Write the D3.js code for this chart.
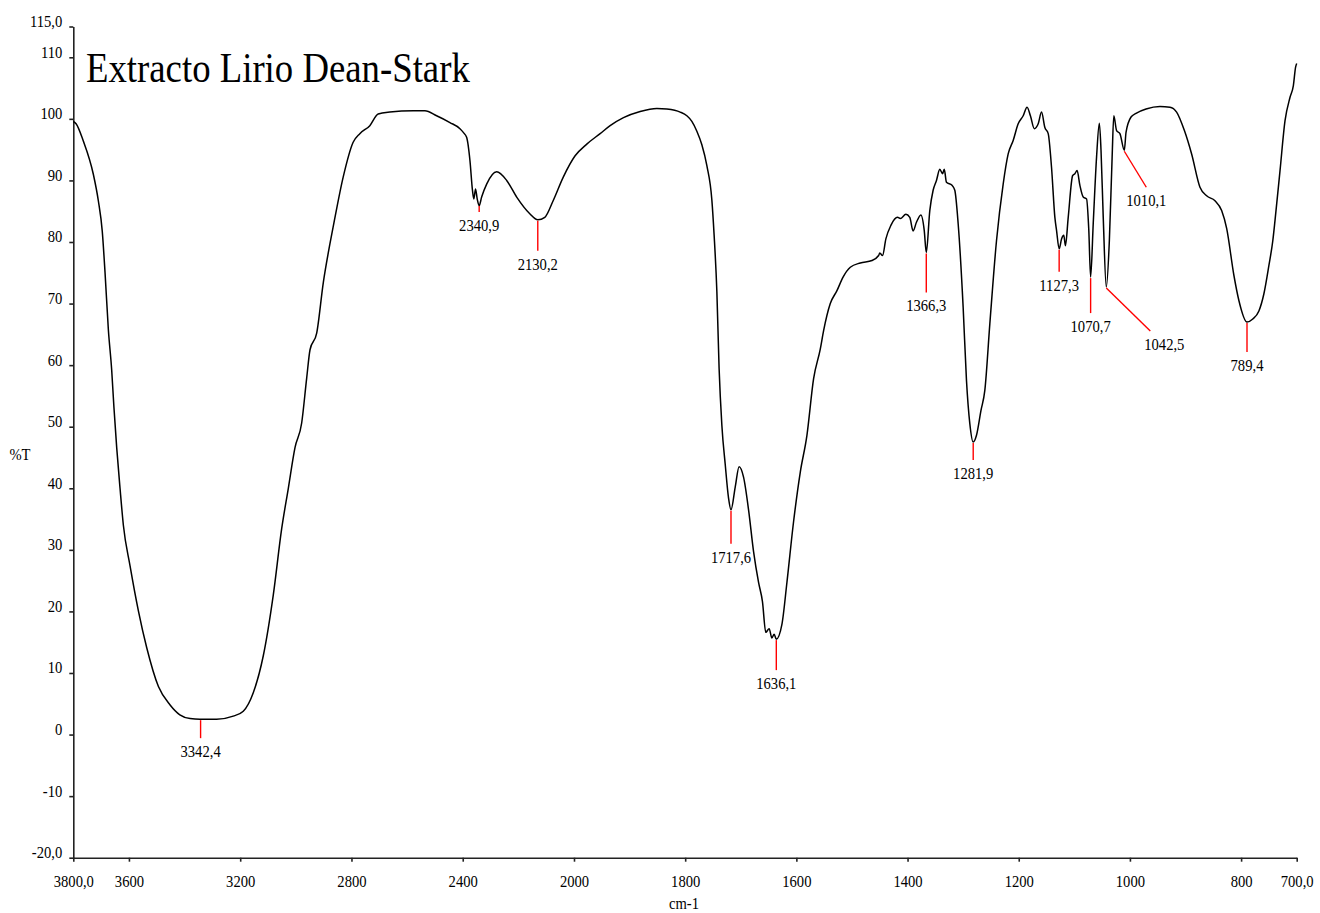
<!DOCTYPE html>
<html>
<head>
<meta charset="utf-8">
<script src="https://cdnjs.cloudflare.com/ajax/libs/d3/7.8.5/d3.min.js"></script>
<style>
  body { margin: 0; background: #fff; }
  text { font-family: "Liberation Serif", "Times New Roman", serif; fill: #000; }
</style>
</head>
<body>
<svg id="chart" width="1320" height="913"></svg>
<script>
// spectrum (cm-1 / %T)
var wavenumbers = [
  3800, 3790, 3764, 3728, 3710, 3696, 3686, 3674, 3662, 3654, 3644, 3632, 3620, 3596, 3566,
  3536, 3494, 3452, 3417, 3380, 3345, 3285, 3225, 3189, 3153, 3117, 3081, 3051, 3027, 3003,
  2979, 2961, 2949, 2925, 2901, 2877, 2866, 2830, 2794, 2770, 2734, 2704, 2662, 2578, 2536,
  2494, 2446, 2410, 2398, 2386, 2374, 2365, 2360, 2354, 2348, 2341, 2332, 2314, 2278, 2242,
  2206, 2159, 2130, 2105, 2075, 2039, 1998, 1977, 1953, 1935, 1911, 1881, 1851, 1833, 1809,
  1797, 1788, 1779, 1770, 1761, 1752, 1748, 1743, 1739, 1734, 1728, 1722, 1717.6, 1710, 1703,
  1695, 1686, 1677, 1668, 1661, 1655, 1649, 1644, 1640, 1636.1, 1626, 1617, 1605, 1593, 1581,
  1569, 1557, 1551, 1539, 1527, 1516, 1503, 1485, 1464, 1452, 1450, 1445, 1439, 1430, 1418,
  1413, 1403, 1396, 1390, 1384, 1376, 1370, 1366.3, 1360, 1354, 1348, 1342, 1337, 1334, 1330,
  1320, 1315, 1309, 1300, 1294, 1288, 1281.9, 1276, 1268, 1261, 1252, 1240, 1228, 1219, 1210,
  1201, 1192, 1185, 1179, 1172, 1165, 1159, 1153, 1147, 1141, 1135, 1132, 1127.3, 1123, 1119,
  1116, 1111, 1103, 1099, 1095, 1090, 1084, 1078, 1074, 1070.7, 1066, 1060, 1055, 1052, 1048,
  1042.5, 1037, 1032, 1029, 1024, 1018, 1010.1, 1007, 998, 989, 971, 946, 928, 916, 902,
  889, 874, 862, 847, 835, 826, 813, 804, 789.4, 779, 768, 759, 750, 743, 739,
  730, 721, 712, 706, 702, 700
];
var transmittance = [
  99.6, 99.2, 96.4, 91.0, 86.7, 81.8, 75.1, 65.8, 59.2, 53.2, 46.6, 40.0, 34.0, 27.4, 20.1,
  14.1, 7.8, 4.8, 3.2, 2.6, 2.5, 2.5, 3.0, 3.8, 6.8, 12.8, 22.7, 33.4, 40.0, 46.6,
  50.6, 57.9, 62.5, 65.2, 73.5, 79.8, 82.4, 90.5, 96.2, 97.6, 98.9, 100.8, 101.1, 101.3, 101.3,
  100.5, 99.4, 98.4, 97.8, 97.0, 93.2, 88.4, 87.0, 88.6, 87.0, 85.9, 87.3, 89.4, 91.4, 90.0,
  87.3, 84.6, 83.6, 84.0, 86.7, 90.5, 94.0, 95.9, 97.6, 98.9, 100.2, 101.2, 101.7, 101.6, 101.1,
  100.5, 99.6, 98.0, 95.8, 92.4, 86.8, 81.2, 71.9, 59.5, 50.2, 43.9, 38.4, 36.5, 40.2, 43.5,
  41.8, 36.5, 29.7, 24.7, 21.6, 16.6, 17.2, 15.7, 16.3, 15.5, 17.9, 24.7, 34.6, 42.6, 48.6,
  57.8, 62.6, 65.6, 70.0, 72.1, 74.3, 75.9, 76.6, 77.0, 77.8, 78.2, 77.8, 80.5, 82.7, 84.0,
  83.8, 84.5, 84.0, 81.8, 83.2, 84.4, 81.9, 78.3, 85.1, 88.4, 90.0, 91.8, 91.1, 91.8, 89.7,
  89.2, 88.4, 83.0, 69.4, 57.5, 50.5, 47.5, 48.6, 52.6, 55.9, 66.7, 80.2, 89.4, 94.3, 96.5,
  99.2, 100.5, 101.9, 100.5, 98.4, 99.2, 101.1, 98.6, 97.6, 92.1, 84.0, 81.9, 78.9, 80.5, 81.1,
  79.4, 84.0, 90.8, 91.1, 91.6, 89.2, 87.3, 87.0, 82.0, 74.3, 83.0, 93.8, 99.3, 94.9, 84.0,
  72.7, 80.2, 93.8, 100.5, 98.1, 97.6, 94.9, 97.8, 100.3, 100.9, 101.6, 102.0, 101.9, 101.1, 98.1,
  94.3, 88.9, 87.5, 86.7, 85.1, 82.2, 74.6, 70.5, 67.0, 67.5, 68.8, 71.6, 76.2, 80.2, 83.5,
  91.6, 99.7, 103.5, 105.4, 108.4, 109.0
];

// picked peaks
var peakWn = [3342.4, 2340.9, 2130.2, 1717.6, 1636.1, 1366.3, 1281.9, 1127.3, 1070.7, 1042.5, 1010.1, 789.4];
var peakT = [2.5, 86.0, 83.6, 36.5, 15.5, 78.3, 47.5, 78.9, 74.3, 72.7, 94.9, 67.0];
// marker leader layout: [line dx, line dy, label dx]
var peakLayout = [[0, 19, 0], [0, 7, 0], [0, 31, 0], [0, 34, 0], [0, 31, 0], [0, 40, 0],
  [0, 18, 0], [0, 23, 0], [0, 36, 0], [44, 44, 14], [22, 37, 0], [0, 30, 0]];

var xTicks = [3800, 3600, 3200, 2800, 2400, 2000, 1800, 1600, 1400, 1200, 1000, 800, 700];
var yTicks = [115, 110, 100, 90, 80, 70, 60, 50, 40, 30, 20, 10, 0, -10, -20];

var title = 'Extracto Lirio Dean-Stark';
var SQUEEZE = 0.86;

var svg = d3.select('#chart');

// the x axis is expanded by two below 2000 cm-1
var x = d3.scaleLinear().domain([3800, 2000, 700]).range([73.3, 574, 1296.7]);
var y = d3.scaleLinear().domain([-20, 115]).range([857.7, 26.5]);

function comma(d) {
  if (d === 3800 || d === 700 || d === 115 || d === -20) {
    return d.toFixed(1).replace('.', ',');
  }
  return String(d);
}

var xAxis = svg.append('g')
  .attr('transform', 'translate(0,' + y(-20) + ')')
  .call(d3.axisBottom(x).tickValues(xTicks).tickSize(4).tickSizeOuter(0).tickFormat(comma));

xAxis.selectAll('text')
  .attr('y', 0)
  .attr('dy', 0)
  .attr('transform', 'translate(0,29) scale(' + SQUEEZE + ',1)')
  .style('font-size', '17px');

var yAxis = svg.append('g')
  .attr('transform', 'translate(' + x(3800) + ',0)')
  .call(d3.axisLeft(y).tickValues(yTicks).tickSize(4).tickSizeOuter(0).tickFormat(comma));

yAxis.selectAll('text')
  .attr('x', 0)
  .attr('dy', 0)
  .attr('transform', 'translate(-11,0) scale(' + SQUEEZE + ',1)')
  .style('font-size', '17px');

svg.selectAll('.domain, .tick line')
  .attr('stroke', '#222')
  .attr('stroke-width', 1.6);

// axis titles
svg.append('text')
  .attr('transform', 'translate(684,909) scale(' + SQUEEZE + ',1)')
  .attr('text-anchor', 'middle')
  .style('font-size', '17px')
  .text('cm-1');

svg.append('text')
  .attr('transform', 'translate(20,460) scale(' + SQUEEZE + ',1)')
  .attr('text-anchor', 'middle')
  .style('font-size', '17px')
  .text('%T');

svg.append('text')
  .attr('transform', 'translate(86,82) scale(0.855,1)')
  .style('font-size', '43px')
  .text(title);

// spectrum
var points = wavenumbers.map(function (w, i) {
  return [w, transmittance[i]];
});

var line = d3.line()
  .curve(d3.curveMonotoneX)
  .x(function (d) { return x(d[0]); })
  .y(function (d) { return y(d[1]); });

svg.append('path')
  .datum(points)
  .attr('fill', 'none')
  .attr('stroke', '#000')
  .attr('stroke-width', 1.5)
  .attr('stroke-linejoin', 'round')
  .attr('d', line);

// peak markers
var peaks = svg.selectAll('g.peak')
  .data(peakWn)
  .enter().append('g')
  .attr('class', 'peak')
  .attr('transform', function (d, i) {
    return 'translate(' + x(d) + ',' + y(peakT[i]) + ')';
  });

peaks.append('line')
  .attr('x1', 0)
  .attr('y1', 1)
  .attr('x2', function (d, i) { return peakLayout[i][0]; })
  .attr('y2', function (d, i) { return peakLayout[i][1]; })
  .attr('stroke', '#ff0000')
  .attr('stroke-width', 1.4);

peaks.append('text')
  .attr('transform', function (d, i) {
    var l = peakLayout[i];
    return 'translate(' + (l[0] + l[2]) + ',' + (l[1] + 19) + ') scale(' + SQUEEZE + ',1)';
  })
  .attr('text-anchor', 'middle')
  .style('font-size', '17px')
  .text(function (d) {
    return d.toFixed(1).replace('.', ',');
  });
</script>
</body>
</html>
